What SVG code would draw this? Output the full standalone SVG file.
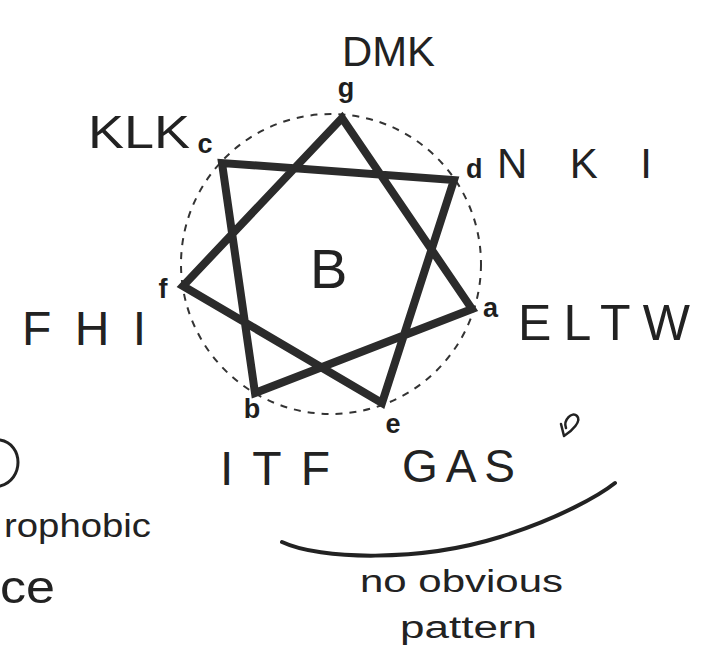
<svg xmlns="http://www.w3.org/2000/svg" width="703" height="655" viewBox="0 0 703 655">
<style>
.lbl{font-family:"Liberation Sans",Arial,sans-serif;font-weight:bold;font-size:27px;fill:#1e1e1e}
.hw{font-family:"Liberation Sans",Arial,sans-serif;font-weight:normal;fill:#222}
.ink{fill:none;stroke:#222;stroke-linecap:round;stroke-linejoin:round}
</style>
<rect width="703" height="655" fill="#fff"/>
<g id="helix-wheel">
<circle cx="331" cy="264" r="150" fill="none" stroke="#333" stroke-width="2" stroke-dasharray="7 7"/>
</g>
<g id="connectors">
<polygon points="342,118 472,309 255,393 222,163 454,180 382,403 183,286" fill="none" stroke="#2b2b2b" stroke-width="8" stroke-linejoin="miter" stroke-miterlimit="10"/>
</g>
<g id="node-g"><text class="lbl" x="346" y="97" text-anchor="middle">g</text><text class="hw" x="342" y="66" font-size="42" textLength="93" lengthAdjust="spacingAndGlyphs">DMK</text></g>
<g id="node-c"><text class="lbl" x="205" y="153" text-anchor="middle">c</text><text class="hw" x="88" y="148" font-size="46" textLength="102" lengthAdjust="spacingAndGlyphs">KLK</text></g>
<g id="node-d"><text class="lbl" x="466" y="178">d</text><text class="hw" x="497" y="178" font-size="42" textLength="155" lengthAdjust="spacing">NKI</text></g>
<g id="node-a"><text class="lbl" x="483" y="317">a</text><text class="hw" x="518" y="340" font-size="50" textLength="172" lengthAdjust="spacing">ELTW</text></g>
<g id="node-e"><text class="lbl" x="393" y="433" text-anchor="middle">e</text><text class="hw" x="402" y="482" font-size="46" textLength="113" lengthAdjust="spacing">GAS</text></g>
<g id="node-b"><text class="lbl" x="252" y="418" text-anchor="middle">b</text><text class="hw" x="220" y="485" font-size="48" textLength="110" lengthAdjust="spacing">ITF</text></g>
<g id="node-f"><text class="lbl" x="163" y="298" text-anchor="middle">f</text><text class="hw" x="22" y="345" font-size="48" textLength="124" lengthAdjust="spacing">FHI</text></g>
<g id="center-label"><text class="hw" x="310" y="288" font-size="56">B</text></g>
<g id="annotations">
<path class="ink" stroke-width="3" d="M0,440 C24,444 24,480 0,486"/>
<text class="hw" x="4" y="537" font-size="34" textLength="147" lengthAdjust="spacingAndGlyphs">rophobic</text>
<text class="hw" x="0" y="603" font-size="46" textLength="55" lengthAdjust="spacingAndGlyphs">ce</text>
<path class="ink" stroke-width="2.5" d="M561,424 L564,436 M564,436 C572,431 582,421 577,416 C572,411 563,420 566,428"/>
<path class="ink" stroke-width="4" d="M282,542 C320,560 420,562 500,537 C560,518 600,495 615,483"/>
<text class="hw" x="360" y="592" font-size="32" textLength="203" lengthAdjust="spacingAndGlyphs">no obvious</text>
<text class="hw" x="400" y="638" font-size="31" textLength="137" lengthAdjust="spacingAndGlyphs">pattern</text>
</g>
</svg>
